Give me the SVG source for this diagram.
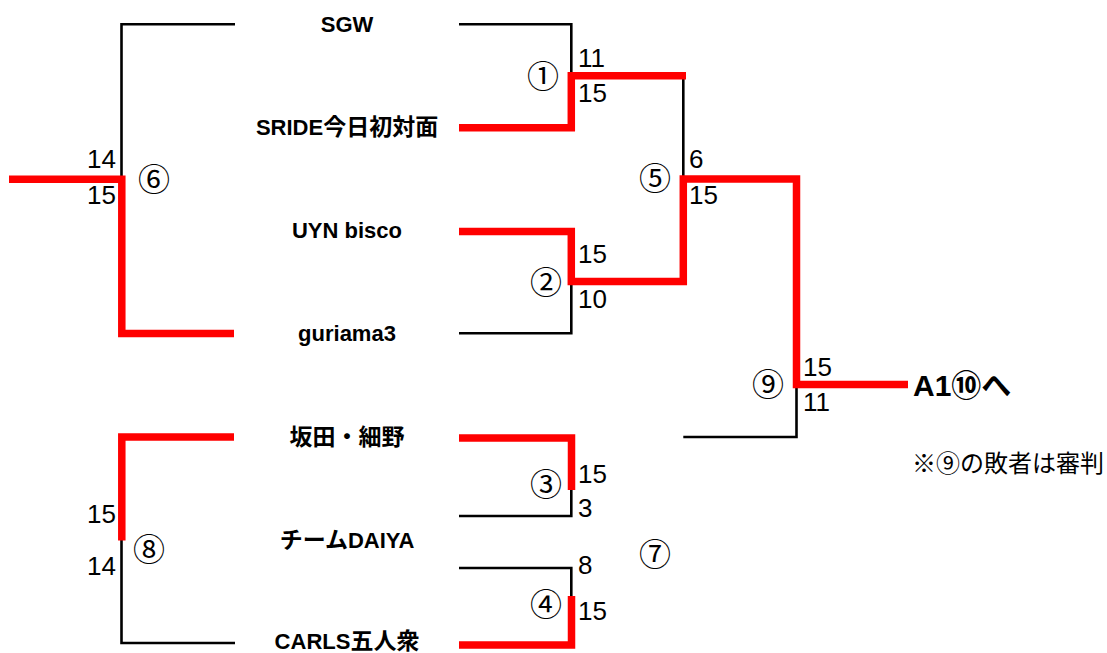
<svg xmlns="http://www.w3.org/2000/svg" width="1107" height="653" viewBox="0 0 1107 653">
<style>
.bk{fill:none;stroke:#000;stroke-width:2.6;stroke-linejoin:miter;stroke-linecap:butt}
.rd{fill:none;stroke:#ff0000;stroke-width:7.5;stroke-linejoin:miter;stroke-linecap:butt}
.team{font-family:"Liberation Sans","Noto Sans CJK JP",sans-serif;font-weight:bold;font-size:22px;fill:#000;text-anchor:middle}
.cj{font-size:23px}
.sc{font-family:"Liberation Sans","Noto Sans CJK JP",sans-serif;font-size:26px;fill:#000}
.sce{font-family:"Liberation Sans","Noto Sans CJK JP",sans-serif;font-size:26px;fill:#000;text-anchor:end}
.mn{font-family:"Noto Sans CJK JP",sans-serif;font-size:32px;fill:#000;text-anchor:middle}
.out{font-family:"Liberation Sans","Noto Sans CJK JP",sans-serif;font-weight:bold;font-size:30px;fill:#000}
.note{font-family:"Noto Sans CJK JP",sans-serif;font-size:24px;fill:#000}
</style>
<rect width="1107" height="653" fill="#fff"/>
<g id="connectors">
  <path class="bk" d="M235,24.3 H121.5 V179"/>
  <path class="bk" d="M459,24.3 H571.3 V76"/>
  <path class="bk" d="M683.3,76 V179"/>
  <path class="bk" d="M459,333.3 H571.3 V281.5"/>
  <path class="bk" d="M683.3,437 H796.5 V384.5"/>
  <path class="bk" d="M235,643 H121.5 V540"/>
  <path class="bk" d="M459,516 H571.3 V490"/>
  <path class="bk" d="M459,568 H571.3 V596"/>
  <path class="rd" d="M9,179.2 H121.8 V333.5 H234"/>
  <path class="rd" d="M459,127.8 H571.3 V75.8 H686"/>
  <path class="rd" d="M459,231.5 H571.3 V281.5 H683.3 V179 H796.5 V384.5 H908"/>
  <path class="rd" d="M234,437 H121.8 V540.5"/>
  <path class="rd" d="M459,438 H571.5 V490"/>
  <path class="rd" d="M571.5,596 V645 H459"/>
</g>
<g id="team-sgw"><text class="team" x="347" y="32">SGW</text></g>
<g id="team-sride"><text class="team" x="347" y="135">SRIDE<tspan class="cj">今日初対面</tspan></text></g>
<g id="team-uyn"><text class="team" x="347" y="238">UYN bisco</text></g>
<g id="team-guriama3"><text class="team" x="347" y="341">guriama3</text></g>
<g id="team-sakata"><text class="team" x="347" y="445"><tspan class="cj">坂田・細野</tspan></text></g>
<g id="team-daiya"><text class="team" x="347" y="548"><tspan class="cj">チーム</tspan>DAIYA</text></g>
<g id="team-carls"><text class="team" x="347" y="649">CARLS<tspan class="cj">五人衆</tspan></text></g>
<g id="match1"><text class="mn" x="543" y="88">①</text><text class="sc" x="578" y="66.7">11</text><text class="sc" x="578" y="101.7">15</text></g>
<g id="match2"><text class="mn" x="546" y="294">②</text><text class="sc" x="578" y="263">15</text><text class="sc" x="578" y="308">10</text></g>
<g id="match3"><text class="mn" x="546" y="496">③</text><text class="sc" x="578" y="483">15</text><text class="sc" x="578" y="517">3</text></g>
<g id="match4"><text class="mn" x="546" y="616">④</text><text class="sc" x="578" y="574">8</text><text class="sc" x="578" y="620">15</text></g>
<g id="match5"><text class="mn" x="655" y="190">⑤</text><text class="sc" x="689" y="168">6</text><text class="sc" x="689" y="204">15</text></g>
<g id="match6"><text class="mn" x="154" y="191">⑥</text><text class="sce" x="116" y="168">14</text><text class="sce" x="116" y="204">15</text></g>
<g id="match7"><text class="mn" x="655" y="566">⑦</text></g>
<g id="match8"><text class="mn" x="149" y="561">⑧</text><text class="sce" x="116" y="523">15</text><text class="sce" x="116" y="575">14</text></g>
<g id="match9"><text class="mn" x="768" y="396">⑨</text><text class="sc" x="803" y="376">15</text><text class="sc" x="803" y="411">11</text></g>
<g id="next"><text class="out" x="913" y="396">A1⑩へ</text></g>
<g id="note"><text class="note" x="912" y="472">※⑨の敗者は審判</text></g>
</svg>
